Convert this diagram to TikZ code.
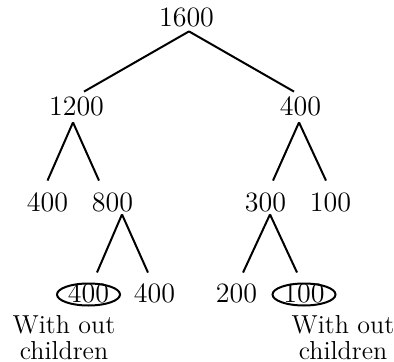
\documentclass[tikz,border=0pt]{standalone}
\usepackage{tikz}
\usetikzlibrary{shapes.geometric, calc}
\tikzset{
	num_node/.style={inner xsep=0pt, inner ysep=2pt, text height=8.5pt, text depth=0pt, font=\fontsize{14}{16}\selectfont},
	leaf_node/.style={ellipse, draw=black, line width=1pt, inner sep=0pt, text height=7.5pt, text depth=0pt, minimum width=31.5pt, minimum height=11pt, font=\fontsize{14}{16}\selectfont},
	note_text/.style={align=center, inner sep=0pt, font=\fontsize{13}{13}\selectfont},
	branch_line/.style={draw=black, line width=1pt}
}

\begin{document}
\begin{tikzpicture}[x=0.5pt, y=-0.5pt]
	\useasboundingbox (0,0) rectangle (394,362);
	% levels of the tree
	\node[num_node, anchor=base] (n1600) at (186.5,27) {1600};
	\node[num_node, anchor=base] (n1200) at (76.5,116) {1200};
	\node[num_node, anchor=base] (n400r) at (300.5,116) {400};
	\node[num_node, anchor=base] (n400l) at (47.5,212) {400};
	\node[num_node, anchor=base] (n800) at (112.5,212) {800};
	\node[num_node, anchor=base] (n300) at (265.5,212) {300};
	\node[num_node, anchor=base] (n100) at (330.5,212) {100};
	\node[leaf_node, anchor=base] (leaf400) at (88.5,302) {400};
	\node[num_node, anchor=base] (n400b) at (154.5,302) {400};
	\node[num_node, anchor=base] (n200) at (236.5,302) {200};
	\node[leaf_node, anchor=base] (leaf100) at (304,302) {100};
	% branches
	\draw[branch_line] ([xshift=1.25pt]n1600.south) -- ([xshift=3.75pt, yshift=1.5pt]n1200.north);
	\draw[branch_line] ([xshift=1.25pt]n1600.south) -- ([xshift=-3.25pt, yshift=1.5pt]n400r.north);
	\draw[branch_line] ([xshift=-1.75pt, yshift=-1pt]n1200.south) -- ([yshift=5pt]n400l.north);
	\draw[branch_line] ([xshift=-1.75pt, yshift=-1pt]n1200.south) -- ([xshift=-6.75pt, yshift=5pt]n800.north);
	\draw[branch_line] ([xshift=-0.75pt, yshift=-1pt]n400r.south) -- ([xshift=3.75pt, yshift=5pt]n300.north);
	\draw[branch_line] ([xshift=-0.75pt, yshift=-1pt]n400r.south) -- ([xshift=-2.25pt, yshift=5pt]n100.north);
	\draw[branch_line] ([xshift=4.75pt, yshift=1pt]n800.south) -- ([xshift=4.25pt, yshift=5pt]leaf400.north);
	\draw[branch_line] ([xshift=4.75pt, yshift=1pt]n800.south) -- ([xshift=-3.25pt, yshift=4pt]n400b.north);
	\draw[branch_line] ([xshift=2.25pt, yshift=1pt]n300.south) -- ([xshift=3.25pt, yshift=4pt]n200.north);
	\draw[branch_line] ([xshift=2.25pt, yshift=1pt]n300.south) -- ([xshift=-3.5pt, yshift=5pt]leaf100.north);
	% notes under the circled leaves
	\node[note_text] (note_left) at (64,337.5) {With out\\children};
	\node[note_text] (note_right) at (343,337.5) {With out\\children};
\end{tikzpicture}
\end{document}
